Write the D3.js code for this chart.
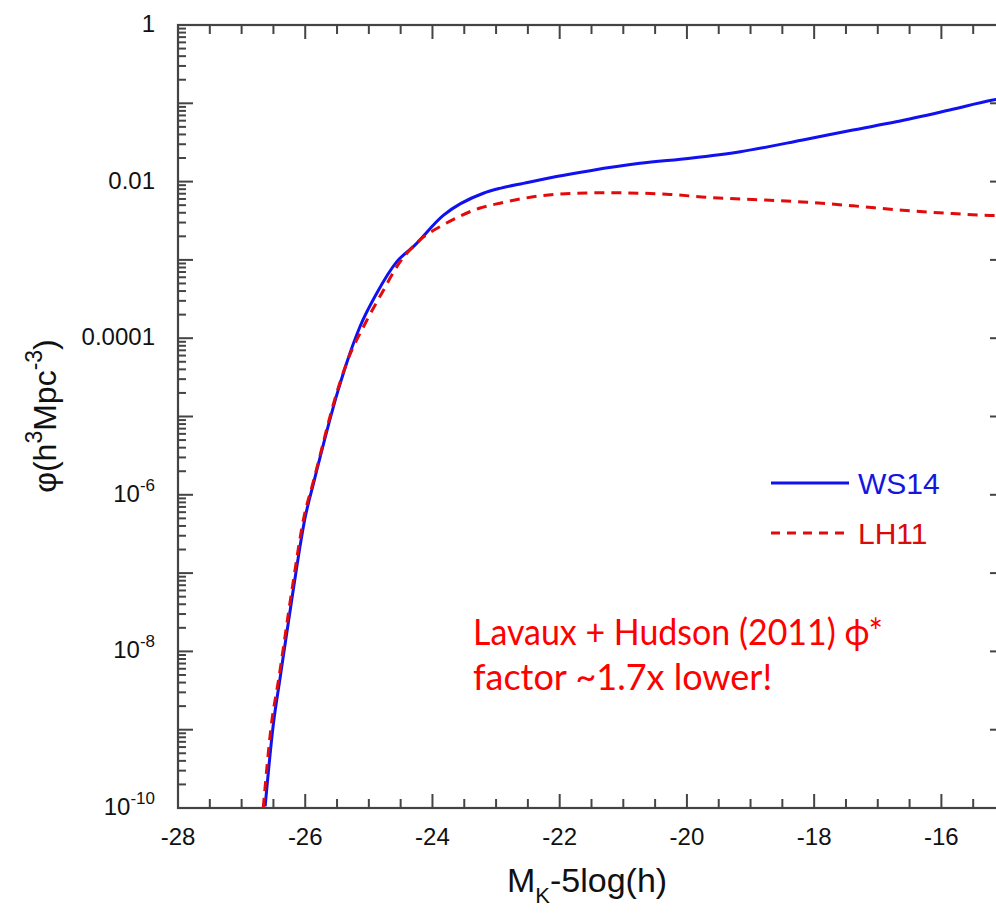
<!DOCTYPE html>
<html>
<head>
<meta charset="utf-8">
<script src="https://cdn.jsdelivr.net/npm/d3@7"></script>
<style>
  body { margin: 0; background: #fff; overflow: hidden; }
</style>
</head>
<body>
<svg id="chart" width="996" height="913"></svg>
<script>
// magnitudes M_K - 5log(h) and phi (h^3 Mpc^-3)
var ws14Mag = [-26.63, -26.50, -26.40, -26.19, -26.00, -25.87, -25.48, -25.35, -25.14, -24.88,
               -24.56, -24.30, -23.83, -23.20, -22.94, -22.57, -22.05, -21.52, -20.74, -19.95,
               -19.16, -18.18, -17.39, -16.71, -15.87, -15.19, -15.00]
var ws14Phi = [1.05e-10, 1.2e-9, 4.3e-9, 6.0e-8, 5.2e-7, 1.4e-6, 2.2e-5, 4.8e-5, 1.4e-4, 3.7e-4,
               9.5e-4, 1.48e-3, 3.7e-3, 7.1e-3, 8.2e-3, 9.5e-3, 1.16e-2, 1.38e-2, 1.71e-2, 1.99e-2,
               2.41e-2, 3.4e-2, 4.56e-2, 5.8e-2, 8.2e-2, 0.110, 0.117]

var lh11Mag = [-26.66, -26.53, -26.42, -26.21, -26.02, -25.88, -25.49, -25.35, -25.03, -24.77,
               -24.56, -24.20, -23.83, -23.25, -22.94, -22.57, -22.05, -21.26, -20.32, -19.69,
               -19.16, -18.18, -17.39, -16.61, -15.82, -15.14, -15.00]
var lh11Phi = [1.0e-10, 1.2e-9, 4.3e-9, 6.0e-8, 5.2e-7, 1.4e-6, 2.2e-5, 4.8e-5, 1.7e-4, 4.1e-4,
               8.2e-4, 1.79e-3, 2.8e-3, 4.6e-3, 5.3e-3, 6.1e-3, 6.9e-3, 7.2e-3, 6.9e-3, 6.3e-3,
               6.0e-3, 5.5e-3, 4.9e-3, 4.3e-3, 3.9e-3, 3.7e-3, 3.7e-3]

var xLabels = [-28, -26, -24, -22, -20, -18, -16]
var yLabelExps = [0, -2, -4, -6, -8, -10]

var svg = d3.select("#chart")

var x = d3.scaleLinear().domain([-28, -15]).range([178, 1005])
var y = d3.scaleLog().domain([1e-10, 1]).range([808, 25])

// tick values
var xMinor = d3.range(-28, -14.99, 0.5).filter(d => xLabels.indexOf(d) < 0)
var yMajor = d3.range(-10, 1).map(e => Math.pow(10, e))
var yMinor = []
d3.range(-10, 0).forEach(function(e) {
    d3.range(2, 10).forEach(k => yMinor.push(k * Math.pow(10, e)))
})

var axisColor = "#444"
var frame = svg.append("g")

// frame
frame.append("rect")
    .attr("x", x(-28)).attr("y", y(1))
    .attr("width", x(-15) - x(-28)).attr("height", y(1e-10) - y(1))
    .attr("fill", "none").attr("stroke", axisColor).attr("stroke-width", 2.2)

// x ticks, bottom (up) and top (down)
function xTicks(vals, len) {
    [[y(1e-10), -len], [y(1), len]].forEach(function(s) {
        frame.append("g").selectAll("line")
            .data(vals).enter().append("line")
            .attr("x1", d => x(d)).attr("x2", d => x(d))
            .attr("y1", s[0]).attr("y2", s[0] + s[1])
            .attr("stroke", axisColor).attr("stroke-width", 2)
    })
}
function yTicks(vals, len) {
    [[x(-28), len], [x(-15), -len]].forEach(function(s) {
        frame.append("g").selectAll("line")
            .data(vals).enter().append("line")
            .attr("y1", d => y(d)).attr("y2", d => y(d))
            .attr("x1", s[0]).attr("x2", s[0] + s[1])
            .attr("stroke", axisColor).attr("stroke-width", 2)
    })
}
xTicks(xMinor, 9)
xTicks(xLabels, 14)
yTicks(yMinor, 8)
yTicks(yMajor, 15)

// x tick labels
svg.append("g").selectAll("text")
    .data(xLabels).enter()
    .append("text")
    .attr("x", d => x(d))
    .attr("y", 845)
    .attr("text-anchor", "middle")
    .attr("font-family", "Liberation Sans, Arial, sans-serif")
    .attr("font-size", 24)
    .attr("fill", "#111")
    .text(d => d)

// y tick labels
var yl = svg.append("g").selectAll("text")
    .data(yLabelExps).enter()
    .append("text")
    .attr("x", 155)
    .attr("y", d => y(Math.pow(10, d)) + 7)
    .attr("text-anchor", "end")
    .attr("font-family", "Liberation Sans, Arial, sans-serif")
    .attr("font-size", 24)
    .attr("fill", "#111")
yl.each(function(d) {
    var t = d3.select(this)
    if (d === 0) t.text("1")
    else if (d === -2) t.text("0.01")
    else if (d === -4) t.text("0.0001")
    else {
        t.append("tspan").text("10")
        t.append("tspan").attr("font-size", 17).attr("dy", -11).text(d)
    }
})

// curves
var line = d3.line()
    .x(d => x(d[0]))
    .y(d => y(d[1]))
    .curve(d3.curveMonotoneX)

svg.append("clipPath").attr("id", "plotclip")
    .append("rect").attr("x", 178).attr("y", 25).attr("width", 827).attr("height", 783)

svg.append("path")
    .datum(d3.zip(ws14Mag, ws14Phi))
    .attr("clip-path", "url(#plotclip)")
    .attr("fill", "none")
    .attr("stroke", "#1010f0")
    .attr("stroke-width", 3)
    .attr("d", line)

svg.append("path")
    .datum(d3.zip(lh11Mag, lh11Phi))
    .attr("clip-path", "url(#plotclip)")
    .attr("fill", "none")
    .attr("stroke", "#e20a0a")
    .attr("stroke-width", 3)
    .attr("stroke-dasharray", "10,7")
    .attr("d", line)

// legend
svg.append("line").attr("x1", 771).attr("x2", 849).attr("y1", 483).attr("y2", 483)
    .attr("stroke", "#1010f0").attr("stroke-width", 3)
svg.append("line").attr("x1", 771).attr("x2", 849).attr("y1", 533).attr("y2", 533)
    .attr("stroke", "#e20a0a").attr("stroke-width", 3).attr("stroke-dasharray", "9,7")
svg.append("text").attr("x", 858).attr("y", 494)
    .attr("font-family", "Liberation Sans, Arial, sans-serif").attr("font-size", 30)
    .attr("fill", "#1515e0").text("WS14")
svg.append("text").attr("x", 858).attr("y", 544)
    .attr("font-family", "Liberation Sans, Arial, sans-serif").attr("font-size", 30)
    .attr("fill", "#d80a0a").text("LH11")

// annotation
svg.append("text").attr("x", 473).attr("y", 645)
    .attr("font-family", "Lato, 'Open Sans', sans-serif").attr("font-size", 36)
    .attr("textLength", 410).attr("lengthAdjust", "spacingAndGlyphs")
    .attr("fill", "#ff0000").text("Lavaux + Hudson (2011) \u03d5*")
svg.append("text").attr("x", 473).attr("y", 690)
    .attr("font-family", "Lato, 'Open Sans', sans-serif").attr("font-size", 36)
    .attr("fill", "#ff0000").text("factor ~1.7x lower!")

// axis titles
var xt = svg.append("text").attr("x", 507).attr("y", 892)
    .attr("font-family", "Liberation Sans, Arial, sans-serif").attr("font-size", 34)
    .attr("fill", "#111")
xt.append("tspan").text("M")
xt.append("tspan").attr("font-size", 22).attr("dy", 11).text("K")
xt.append("tspan").attr("dy", -11).text("-5log(h)")

var yt = svg.append("text")
    .attr("transform", "translate(56,416) rotate(-90)")
    .attr("text-anchor", "middle")
    .attr("font-family", "Liberation Sans, Arial, sans-serif").attr("font-size", 32)
    .attr("fill", "#111")
yt.append("tspan").text("\u03c6(h")
yt.append("tspan").attr("font-size", 23).attr("dy", -14).text("3")
yt.append("tspan").attr("dy", 14).text("Mpc")
yt.append("tspan").attr("font-size", 23).attr("dy", -14).text("-3")
yt.append("tspan").attr("dy", 14).text(")")
</script>
</body>
</html>
